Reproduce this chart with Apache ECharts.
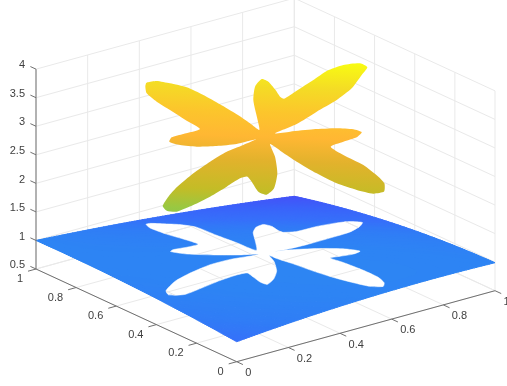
<!DOCTYPE html>
<html><head><meta charset="utf-8">
<style>html,body{margin:0;padding:0;background:#fff}#c{width:507px;height:386px}</style>
<script src="https://cdn.jsdelivr.net/npm/echarts@6/dist/echarts.min.js"></script>
</head><body><div id="c"></div>
<script>
// axis ticks
const xTicks = [0, 0.2, 0.4, 0.6, 0.8, 1];
const yTicks = [0, 0.2, 0.4, 0.6, 0.8, 1];
const zTicks = [0.5, 1, 1.5, 2, 2.5, 3, 3.5, 4];
const xTickLabels = ['0', '0.2', '0.4', '0.6', '0.8', '1'];
const yTickLabels = ['0', '0.2', '0.4', '0.6', '0.8', '1'];
const zTickLabels = ['0.5', '1', '1.5', '2', '2.5', '3', '3.5', '4'];
// outline of the hole in the lower surface
const holeX = [.386,.403,.432,.468,.489,.482,.4825,.484,.546,.589,.632,.671,.677,.663,.663,.702,.786,.862,.906,.929,.896,.829,.738,.6396,.562,.518,.5675,.640,.704,.731,.697,.652,.618,.625,.632,.632,.619,.599,.567,.544,.522,.506,.496,.4857,.485,.463,.419,.3715,.328,.3227,.331,.338,.302,.234,.162,.085,.045,.059,.1235,.2007,.292,.3687,.4466,.468,.418,.354,.2955,.271,.289,.335,.381,.377,.368,.370];
const holeY = [.949,.951,.923,.884,.830,.720,.621,.524,.612,.676,.7174,.730,.697,.646,.621,.604,.6133,.6113,.601,.569,.538,.502,.486,.4747,.475,.484,.465,.426,.375,.326,.316,.324,.330,.273,.182,.108,.062,.041,.065,.119,.189,.2695,.3565,.4255,.462,.410,.340,.293,.270,.299,.343,.382,.389,.385,.375,.368,.398,.428,.467,.491,.5086,.5075,.492,.494,.521,.572,.629,.678,.687,.6795,.682,.752,.824,.908];
// outline of the upper surface
const topX = [.3685,.3743,.3998,.4246,.4527,.4707,.4841,.4956,.5022,.5057,.5436,.5739,.6144,.6510,.6593,.6539,.6455,.6494,.7009,.7692,.8251,.8805,.9241,.9303,.8960,.8360,.7689,.6902,.6095,.5332,.5729,.6339,.6913,.7275,.7388,.7134,.6703,.6269,.6337,.6531,.6562,.6520,.6284,.5979,.5690,.5404,.5211,.5063,.4986,.4923,.4693,.4290,.3801,.3456,.3343,.3461,.3497,.3280,.2739,.2075,.1456,.0884,.0677,.0711,.1100,.1551,.2325,.3035,.3699,.4272,.4723,.4143,.3620,.3134,.2790,.2631,.2805,.3169,.3696,.3613,.3515,.3432,.3426,.3578];
const topY = [.9261,.9270,.9133,.8788,.8318,.7719,.7061,.6379,.5799,.5379,.6033,.6557,.6994,.7133,.6908,.6506,.6148,.5999,.6032,.6079,.6134,.6017,.5747,.5462,.5303,.5029,.4913,.4896,.4855,.4953,.4716,.4338,.3913,.3549,.3279,.3201,.3311,.3385,.2841,.2093,.1386,.1032,.0745,.0885,.1343,.1972,.2719,.3526,.4174,.4675,.4129,.3495,.3031,.2952,.3223,.3707,.3969,.4055,.4023,.3999,.4034,.4127,.4360,.4603,.4821,.4986,.5151,.5235,.5259,.5166,.5116,.5332,.5656,.6027,.6414,.6742,.6849,.6737,.6585,.7142,.7847,.8404,.8895,.9157];
// lower surface heights at x,y = 0, .5, 1 (rows by y)
const planeZ = [
  [.85, .99, .99],
  [.975, 1.0, .86],
  [1.0, .81, .53]
];
// upper surface height: constant, x slope, y slope
const topPlane = [1.667, 1.284, 1.375];
// colour ramp: height -> colour
const rampZ = [.53, .72, .85, .92, 1.0, 1.1, 2.38, 2.55, 2.8, 3.0, 3.2, 3.42, 3.64];
const rampC = ['#4452f8', '#3a64fa', '#3670fa', '#307cf6', '#2d84f4', '#2c88f0', '#98c842', '#c4bc26', '#e2b22c', '#ffb733', '#fcc52c', '#f4dc25', '#f8fb12'];

// view: how one data unit projects on the picture
const VIEW = {ox: 236.7, oy: 361.7, xx: 258.3, xy: -71, yx: -200.7, yy: -92.7, zy: -57.1, z0: 0.5};
const project = (x, y, z) => [
  VIEW.ox + x * VIEW.xx + y * VIEW.yx,
  VIEW.oy + x * VIEW.xy + y * VIEW.yy + (z - VIEW.z0) * VIEW.zy
];
const lag = t => [(t - .5) * (t - 1) * 2, t * (t - 1) * -4, t * (t - .5) * 2];
function lowSurface(x, y) {
  const a = lag(x), b = lag(y);
  let z = 0;
  for (let j = 0; j < 3; j++) for (let i = 0; i < 3; i++) z += planeZ[j][i] * a[i] * b[j];
  return z;
}
const topSurface = (x, y) => topPlane[0] + topPlane[1] * x + topPlane[2] * y;
const hex = s => [1, 3, 5].map(k => parseInt(s.substr(k, 2), 16));
function colorOf(z) {
  if (z <= rampZ[0]) return rampC[0];
  for (let i = 1; i < rampZ.length; i++) {
    if (z <= rampZ[i]) {
      const t = (z - rampZ[i - 1]) / (rampZ[i] - rampZ[i - 1]);
      const a = hex(rampC[i - 1]), b = hex(rampC[i]);
      return 'rgb(' + a.map((v, k) => Math.round(v + (b[k] - v) * t)).join(',') + ')';
    }
  }
  return rampC[rampC.length - 1];
}

// lower surface mesh grouped by colour
const N = 100, STEP = 0.005;
const bandMap = new Map();
for (let j = 0; j < N; j++) for (let i = 0; i < N; i++) {
  const key = Math.round(lowSurface((i + .5) / N, (j + .5) / N) / STEP);
  if (!bandMap.has(key)) bandMap.set(key, []);
  bandMap.get(key).push([i, j]);
}
const bands = [...bandMap.entries()].map(([k, cells]) => ({z: k * STEP, cells}));
const base = {type: 'custom', coordinateSystem: 'cartesian2d', clip: false, silent: true};
const lowMesh = Object.assign({}, base, {
  data: bands.map((b, i) => [i]), encode: {x: 0, y: 0},
  renderItem(params, api) {
    const b = bands[params.dataIndex];
    const pt = (i, j) => { const x = i / N, y = j / N, p = api.coord(project(x, y, lowSurface(x, y))); return p[0].toFixed(2) + ' ' + p[1].toFixed(2); };
    const parts = b.cells.map(([i, j]) => 'M' + pt(i, j) + 'L' + pt(i + 1, j) + 'L' + pt(i + 1, j + 1) + 'L' + pt(i, j + 1) + 'Z');
    const col = colorOf(b.z);
    return {type: 'path', shape: {pathData: parts.join('')}, style: {fill: col, stroke: col, lineWidth: 1}, silent: true};
  }
});

// grid lines and axes as 3D segments
const gridSegs = [], axisSegs = [];
const zLo = zTicks[0], zHi = zTicks[zTicks.length - 1];
xTicks.forEach(v => {
  gridSegs.push([v, 0, zLo, v, 1, zLo]);
  gridSegs.push([v, 1, zLo, v, 1, zHi]);
});
yTicks.forEach(v => {
  gridSegs.push([0, v, zLo, 1, v, zLo]);
  gridSegs.push([1, v, zLo, 1, v, zHi]);
});
zTicks.forEach(v => {
  gridSegs.push([0, 1, v, 1, 1, v]);
  gridSegs.push([1, 1, v, 1, 0, v]);
});
axisSegs.push([0, 1, zLo, 0, 1, zHi], [0, 1, zLo, 0, 0, zLo], [0, 0, zLo, 1, 0, zLo]);
const xTickLen = .031, yTickLen = .031, zTickLen = .028;
xTicks.forEach(v => axisSegs.push([v, 0, zLo, v, -xTickLen, zLo]));
yTicks.forEach(v => axisSegs.push([0, v, zLo, -yTickLen, v, zLo]));
zTicks.forEach(v => axisSegs.push([0, 1, v, 0, 1 + zTickLen, v]));

const lineEl = (s, api, color) => {
  const a = api.coord(project(s[0], s[1], s[2])), b = api.coord(project(s[3], s[4], s[5]));
  return {type: 'line', shape: {x1: a[0], y1: a[1], x2: b[0], y2: b[1]}, style: {stroke: color, lineWidth: 1}, silent: true};
};
const segSeries = (segs, color) => Object.assign({}, base, {
  data: segs, encode: {x: 0, y: 1},
  renderItem: (params, api) => lineEl(segs[params.dataIndex], api, color)
});
const SMOOTH = 0.2;
const holePoints = api => holeX.map((x, i) => api.coord(project(x, holeY[i], lowSurface(x, holeY[i]))));

// the hole, white, and the grid seen through it
const holeSeries = Object.assign({}, base, {
  data: [[0]], encode: {x: 0, y: 0},
  renderItem(params, api) {
    const pts = holePoints(api);
    return {type: 'group', children: [
      {type: 'polygon', shape: {points: pts, smooth: SMOOTH}, style: {fill: '#fff', stroke: '#fff', lineWidth: 0.5}, silent: true},
      {type: 'group', clipPath: {type: 'polygon', shape: {points: pts, smooth: SMOOTH}}, children: gridSegs.map(s => lineEl(s, api, '#e9e9e9'))}
    ]};
  }
});

// upper surface
const topSeries = Object.assign({}, base, {
  data: [[0]], encode: {x: 0, y: 0},
  renderItem(params, api) {
    const pts = topX.map((x, i) => api.coord(project(x, topY[i], topSurface(x, topY[i]))));
    const c0 = api.coord(project(0, 0, topSurface(0, 0)));
    const c1 = api.coord(project(1, 0, topSurface(1, 0)));
    const c2 = api.coord(project(0, 1, topSurface(0, 1)));
    // screen gradient of height across the tilted upper surface
    const ax = c1[0] - c0[0], ay = c1[1] - c0[1], bx = c2[0] - c0[0], by = c2[1] - c0[1];
    const det = ax * by - ay * bx;
    const gx = (topPlane[1] * by - topPlane[2] * ay) / det;
    const gy = (topPlane[2] * ax - topPlane[1] * bx) / det;
    const g2 = gx * gx + gy * gy;
    const zA = rampZ[0], zB = rampZ[rampZ.length - 1], z0 = topPlane[0];
    const at = z => [c0[0] + (z - z0) * gx / g2, c0[1] + (z - z0) * gy / g2];
    const A = at(zA), B = at(zB);
    const stops = rampZ.map((z, i) => ({offset: (z - zA) / (zB - zA), color: rampC[i]}));
    return {type: 'polygon', shape: {points: pts, smooth: SMOOTH}, silent: true,
      style: {fill: new echarts.graphic.LinearGradient(A[0], A[1], B[0], B[1], stops, true)}};
  }
});

// tick labels
const labels = [];
xTicks.forEach((v, i) => labels.push({p: [v, 0, zLo], t: xTickLabels[i], dx: 8.5, dy: 11.2, align: 'left'}));
yTicks.forEach((v, i) => labels.push({p: [0, v, zLo], t: yTickLabels[i], dx: -13, dy: 10.3, align: 'right'}));
zTicks.forEach((v, i) => labels.push({p: [0, 1, v], t: zTickLabels[i], dx: -11, dy: -3.8, align: 'right'}));
const labelSeries = Object.assign({}, base, {
  data: labels.map((l, i) => [i]), encode: {x: 0, y: 0},
  renderItem(params, api) {
    const l = labels[params.dataIndex];
    const a = api.coord(project(l.p[0], l.p[1], l.p[2]));
    return {type: 'text', x: a[0] + l.dx, y: a[1] + l.dy, silent: true,
      style: {text: l.t, fill: '#404040', font: '11px "Liberation Sans", Arial, sans-serif', align: l.align, verticalAlign: 'middle'}};
  }
});

const chart = echarts.init(document.getElementById('c'), null, {renderer: 'canvas', width: 507, height: 386});
chart.setOption({
  animation: false,
  backgroundColor: '#fff',
  tooltip: {show: false},
  grid: {left: 0, right: 0, top: 0, bottom: 0},
  xAxis: {type: 'value', min: 0, max: 507, show: false},
  yAxis: {type: 'value', min: 0, max: 386, inverse: true, show: false},
  series: [
    segSeries(gridSegs, '#e9e9e9'),
    lowMesh,
    holeSeries,
    topSeries,
    segSeries(axisSegs, '#707070'),
    labelSeries
  ]
});
</script></body></html>
